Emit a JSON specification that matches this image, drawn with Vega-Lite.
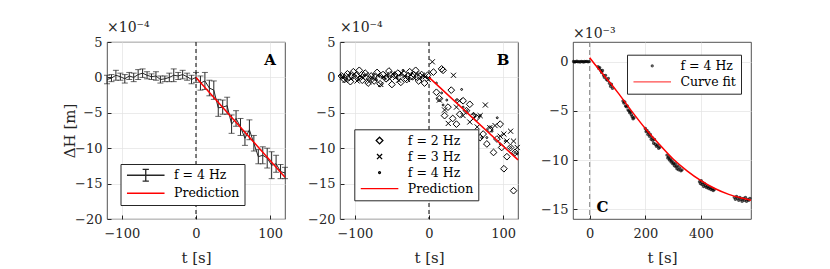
{
  "$schema": "https://vega.github.io/schema/vega-lite/v6.json",
  "padding": {"left": 62, "top": 20, "right": 5, "bottom": 5},
  "background": "white",
  "datasets": {
    "a": [
      {"t": -120, "v": -0.3, "lo": -0.9, "hi": 0.3},
      {"t": -114, "v": -0.1, "lo": -0.6, "hi": 0.4},
      {"t": -108, "v": 0.3, "lo": -0.4, "hi": 1.0},
      {"t": -102, "v": 0.1, "lo": -0.4, "hi": 0.6},
      {"t": -96, "v": -0.2, "lo": -0.8, "hi": 0.4},
      {"t": -90, "v": 0.2, "lo": -0.3, "hi": 0.7},
      {"t": -84, "v": 0.0, "lo": -0.6, "hi": 0.6},
      {"t": -78, "v": 0.4, "lo": -0.3, "hi": 1.1},
      {"t": -72, "v": 0.6, "lo": 0.0, "hi": 1.2},
      {"t": -66, "v": 0.3, "lo": -0.2, "hi": 0.8},
      {"t": -60, "v": 0.1, "lo": -0.3, "hi": 0.5},
      {"t": -54, "v": 0.2, "lo": -0.4, "hi": 0.8},
      {"t": -48, "v": -0.3, "lo": -0.8, "hi": 0.2},
      {"t": -42, "v": -0.2, "lo": -0.6, "hi": 0.2},
      {"t": -36, "v": 0.0, "lo": -0.6, "hi": 0.6},
      {"t": -30, "v": 0.3, "lo": -0.6, "hi": 1.2},
      {"t": -24, "v": 0.2, "lo": -0.3, "hi": 0.7},
      {"t": -18, "v": 0.4, "lo": -0.2, "hi": 1.0},
      {"t": -12, "v": 0.1, "lo": -0.4, "hi": 0.6},
      {"t": -6, "v": -0.3, "lo": -0.9, "hi": 0.3},
      {"t": 0, "v": 0.0, "lo": -0.7, "hi": 0.7},
      {"t": 6, "v": -0.8, "lo": -1.8, "hi": 0.2},
      {"t": 12, "v": -0.5, "lo": -1.7, "hi": 0.7},
      {"t": 18, "v": -1.5, "lo": -2.6, "hi": -0.4},
      {"t": 24, "v": -1.8, "lo": -3.1, "hi": -0.5},
      {"t": 30, "v": -4.3, "lo": -5.5, "hi": -3.1},
      {"t": 36, "v": -4.2, "lo": -5.2, "hi": -3.2},
      {"t": 42, "v": -4.0, "lo": -5.2, "hi": -2.8},
      {"t": 48, "v": -6.6, "lo": -7.9, "hi": -5.3},
      {"t": 54, "v": -5.8, "lo": -6.9, "hi": -4.7},
      {"t": 60, "v": -7.0, "lo": -8.2, "hi": -5.8},
      {"t": 66, "v": -8.6, "lo": -9.6, "hi": -7.6},
      {"t": 72, "v": -7.4, "lo": -8.8, "hi": -6.0},
      {"t": 78, "v": -9.3, "lo": -10.4, "hi": -8.2},
      {"t": 84, "v": -11.2, "lo": -12.2, "hi": -10.2},
      {"t": 90, "v": -11.0, "lo": -12.2, "hi": -9.8},
      {"t": 96, "v": -11.4, "lo": -12.8, "hi": -10.0},
      {"t": 102, "v": -12.4, "lo": -14.3, "hi": -10.5},
      {"t": 108, "v": -12.2, "lo": -13.4, "hi": -11.0},
      {"t": 114, "v": -13.3, "lo": -14.3, "hi": -12.3},
      {"t": 120, "v": -13.5, "lo": -14.3, "hi": -12.7}
    ],
    "predA": [
      {"t": 0, "v": 0.0, "s": "Prediction"},
      {"t": 120, "v": -14.1, "s": "Prediction"}
    ],
    "predB": [
      {"t": 0, "v": 0.0, "s": "Prediction"},
      {"t": 120, "v": -11.65, "s": "Prediction"}
    ],
    "b": [
      {"s": "f = 2 Hz", "t": -118, "v": 0.2}, {"s": "f = 2 Hz", "t": -114, "v": -0.3}, {"s": "f = 2 Hz", "t": -110, "v": 0.5},
      {"s": "f = 2 Hz", "t": -106, "v": -0.6}, {"s": "f = 2 Hz", "t": -102, "v": 0.8}, {"s": "f = 2 Hz", "t": -98, "v": 0.3},
      {"s": "f = 2 Hz", "t": -94, "v": 1.0}, {"s": "f = 2 Hz", "t": -90, "v": -0.4}, {"s": "f = 2 Hz", "t": -86, "v": 0.6},
      {"s": "f = 2 Hz", "t": -82, "v": -0.8}, {"s": "f = 2 Hz", "t": -78, "v": 0.2}, {"s": "f = 2 Hz", "t": -74, "v": -0.5},
      {"s": "f = 2 Hz", "t": -70, "v": 0.7}, {"s": "f = 2 Hz", "t": -66, "v": -0.9}, {"s": "f = 2 Hz", "t": -62, "v": 0.4},
      {"s": "f = 2 Hz", "t": -58, "v": -0.2}, {"s": "f = 2 Hz", "t": -54, "v": 0.9}, {"s": "f = 2 Hz", "t": -50, "v": -1.0},
      {"s": "f = 2 Hz", "t": -46, "v": 0.3}, {"s": "f = 2 Hz", "t": -42, "v": 0.6}, {"s": "f = 2 Hz", "t": -38, "v": -0.7},
      {"s": "f = 2 Hz", "t": -34, "v": 0.5}, {"s": "f = 2 Hz", "t": -30, "v": -0.3}, {"s": "f = 2 Hz", "t": -26, "v": 0.8},
      {"s": "f = 2 Hz", "t": -22, "v": 0.1}, {"s": "f = 2 Hz", "t": -18, "v": 1.0}, {"s": "f = 2 Hz", "t": -14, "v": -0.5},
      {"s": "f = 2 Hz", "t": -10, "v": 0.4}, {"s": "f = 2 Hz", "t": -6, "v": -0.8}, {"s": "f = 2 Hz", "t": -2, "v": 0.3},
      {"s": "f = 2 Hz", "t": 6, "v": 0.75}, {"s": "f = 2 Hz", "t": 10, "v": -2.1}, {"s": "f = 2 Hz", "t": 14, "v": -3.0},
      {"s": "f = 2 Hz", "t": 17, "v": 1.2}, {"s": "f = 2 Hz", "t": 19, "v": 1.0}, {"s": "f = 2 Hz", "t": 21, "v": -5.4},
      {"s": "f = 2 Hz", "t": 25.6, "v": -4.2}, {"s": "f = 2 Hz", "t": 30, "v": -1.8}, {"s": "f = 2 Hz", "t": 32, "v": -5.8},
      {"s": "f = 2 Hz", "t": 37, "v": -6.6}, {"s": "f = 2 Hz", "t": 41.5, "v": -5.2}, {"s": "f = 2 Hz", "t": 46, "v": -3.3},
      {"s": "f = 2 Hz", "t": 50.6, "v": -4.7}, {"s": "f = 2 Hz", "t": 55, "v": -3.8}, {"s": "f = 2 Hz", "t": 60, "v": -5.4},
      {"s": "f = 2 Hz", "t": 64, "v": -5.7}, {"s": "f = 2 Hz", "t": 69, "v": -8.5}, {"s": "f = 2 Hz", "t": 73, "v": -8.0},
      {"s": "f = 2 Hz", "t": 78, "v": -9.4}, {"s": "f = 2 Hz", "t": 82, "v": -7.3}, {"s": "f = 2 Hz", "t": 87, "v": -10.6},
      {"s": "f = 2 Hz", "t": 91.6, "v": -8.7}, {"s": "f = 2 Hz", "t": 96, "v": -6.6}, {"s": "f = 2 Hz", "t": 98, "v": -9.9},
      {"s": "f = 2 Hz", "t": 101, "v": -12.9}, {"s": "f = 2 Hz", "t": 105, "v": -11.2}, {"s": "f = 2 Hz", "t": 110, "v": -9.9},
      {"s": "f = 2 Hz", "t": 114, "v": -16.0}, {"s": "f = 2 Hz", "t": 116, "v": -10.6},
      {"s": "f = 3 Hz", "t": -117, "v": 0.1}, {"s": "f = 3 Hz", "t": -113, "v": -0.4}, {"s": "f = 3 Hz", "t": -109, "v": 0.3},
      {"s": "f = 3 Hz", "t": -105, "v": -0.2}, {"s": "f = 3 Hz", "t": -101, "v": 0.5}, {"s": "f = 3 Hz", "t": -97, "v": -0.5},
      {"s": "f = 3 Hz", "t": -93, "v": 0.2}, {"s": "f = 3 Hz", "t": -89, "v": -0.1}, {"s": "f = 3 Hz", "t": -85, "v": 0.4},
      {"s": "f = 3 Hz", "t": -81, "v": -0.6}, {"s": "f = 3 Hz", "t": -77, "v": 0.0}, {"s": "f = 3 Hz", "t": -73, "v": -0.3},
      {"s": "f = 3 Hz", "t": -69, "v": 0.3}, {"s": "f = 3 Hz", "t": -65, "v": -1.0}, {"s": "f = 3 Hz", "t": -61, "v": 0.1},
      {"s": "f = 3 Hz", "t": -57, "v": 0.4}, {"s": "f = 3 Hz", "t": -53, "v": -0.2}, {"s": "f = 3 Hz", "t": -49, "v": 0.5},
      {"s": "f = 3 Hz", "t": -45, "v": 0.0}, {"s": "f = 3 Hz", "t": -41, "v": -0.4}, {"s": "f = 3 Hz", "t": -37, "v": 0.6},
      {"s": "f = 3 Hz", "t": -33, "v": 0.2}, {"s": "f = 3 Hz", "t": -29, "v": -0.3}, {"s": "f = 3 Hz", "t": -25, "v": 0.4},
      {"s": "f = 3 Hz", "t": -21, "v": 0.0}, {"s": "f = 3 Hz", "t": -17, "v": 0.5}, {"s": "f = 3 Hz", "t": -13, "v": -0.2},
      {"s": "f = 3 Hz", "t": -9, "v": 0.3}, {"s": "f = 3 Hz", "t": -5, "v": 0.1}, {"s": "f = 3 Hz", "t": -1, "v": -0.3},
      {"s": "f = 3 Hz", "t": 4.5, "v": 2.2}, {"s": "f = 3 Hz", "t": 14, "v": -3.2}, {"s": "f = 3 Hz", "t": 21, "v": -4.6},
      {"s": "f = 3 Hz", "t": 26, "v": -6.5}, {"s": "f = 3 Hz", "t": 33, "v": 0.3}, {"s": "f = 3 Hz", "t": 37, "v": -4.2},
      {"s": "f = 3 Hz", "t": 41, "v": -3.3}, {"s": "f = 3 Hz", "t": 46, "v": -5.4}, {"s": "f = 3 Hz", "t": 55, "v": -6.3},
      {"s": "f = 3 Hz", "t": 60, "v": -5.8}, {"s": "f = 3 Hz", "t": 65, "v": -7.0}, {"s": "f = 3 Hz", "t": 69, "v": -5.4},
      {"s": "f = 3 Hz", "t": 76, "v": -3.9}, {"s": "f = 3 Hz", "t": 82, "v": -7.1}, {"s": "f = 3 Hz", "t": 89, "v": -6.8},
      {"s": "f = 3 Hz", "t": 96, "v": -8.3}, {"s": "f = 3 Hz", "t": 101, "v": -8.0}, {"s": "f = 3 Hz", "t": 105, "v": -9.0},
      {"s": "f = 3 Hz", "t": 110, "v": -7.6}, {"s": "f = 3 Hz", "t": 114, "v": -9.0}, {"s": "f = 3 Hz", "t": 119, "v": -9.9},
      {"s": "f = 4 Hz", "t": -119, "v": 0.3}, {"s": "f = 4 Hz", "t": -115, "v": 0.0}, {"s": "f = 4 Hz", "t": -111, "v": -0.2},
      {"s": "f = 4 Hz", "t": -107, "v": 0.4}, {"s": "f = 4 Hz", "t": -103, "v": -0.1}, {"s": "f = 4 Hz", "t": -99, "v": 0.2},
      {"s": "f = 4 Hz", "t": -95, "v": -0.3}, {"s": "f = 4 Hz", "t": -91, "v": 0.1}, {"s": "f = 4 Hz", "t": -87, "v": 0.3},
      {"s": "f = 4 Hz", "t": -83, "v": -0.2}, {"s": "f = 4 Hz", "t": -79, "v": 0.0}, {"s": "f = 4 Hz", "t": -75, "v": 0.4},
      {"s": "f = 4 Hz", "t": -71, "v": -0.3}, {"s": "f = 4 Hz", "t": -67, "v": 0.2}, {"s": "f = 4 Hz", "t": -63, "v": 0.0},
      {"s": "f = 4 Hz", "t": -59, "v": -0.2}, {"s": "f = 4 Hz", "t": -55, "v": 0.3}, {"s": "f = 4 Hz", "t": -51, "v": 0.1},
      {"s": "f = 4 Hz", "t": -47, "v": 0.5}, {"s": "f = 4 Hz", "t": -43, "v": -0.1}, {"s": "f = 4 Hz", "t": -39, "v": 0.3},
      {"s": "f = 4 Hz", "t": -35, "v": 1.0}, {"s": "f = 4 Hz", "t": -31, "v": 0.2}, {"s": "f = 4 Hz", "t": -27, "v": -0.2},
      {"s": "f = 4 Hz", "t": -23, "v": 0.6}, {"s": "f = 4 Hz", "t": -19, "v": 0.0}, {"s": "f = 4 Hz", "t": -15, "v": 0.4},
      {"s": "f = 4 Hz", "t": -11, "v": -0.1}, {"s": "f = 4 Hz", "t": -7, "v": 0.2}, {"s": "f = 4 Hz", "t": -3, "v": 0.0},
      {"s": "f = 4 Hz", "t": 10, "v": -0.8}, {"s": "f = 4 Hz", "t": 17, "v": -2.2}, {"s": "f = 4 Hz", "t": 19, "v": -3.9},
      {"s": "f = 4 Hz", "t": 24, "v": -3.2}, {"s": "f = 4 Hz", "t": 37, "v": -3.2}, {"s": "f = 4 Hz", "t": 44, "v": -1.7},
      {"s": "f = 4 Hz", "t": 46, "v": -4.2}, {"s": "f = 4 Hz", "t": 51, "v": -4.7}, {"s": "f = 4 Hz", "t": 60, "v": -5.2},
      {"s": "f = 4 Hz", "t": 69, "v": -5.4}, {"s": "f = 4 Hz", "t": 71, "v": -8.5}, {"s": "f = 4 Hz", "t": 78, "v": -8.5},
      {"s": "f = 4 Hz", "t": 85, "v": -7.6}, {"s": "f = 4 Hz", "t": 92, "v": -5.7}, {"s": "f = 4 Hz", "t": 96, "v": -9.4},
      {"s": "f = 4 Hz", "t": 103, "v": -9.0}, {"s": "f = 4 Hz", "t": 110, "v": -9.9}, {"s": "f = 4 Hz", "t": 116, "v": -10.6},
      {"s": "f = 4 Hz", "t": 119, "v": -10.8}
    ],
    "c": [
      {"t": -58, "v": 0.02}, {"t": -54, "v": -0.03}, {"t": -50, "v": 0.0}, {"t": -46, "v": 0.04}, {"t": -42, "v": -0.02},
      {"t": -38, "v": 0.01}, {"t": -34, "v": -0.04}, {"t": -30, "v": 0.03}, {"t": -26, "v": 0.0}, {"t": -22, "v": -0.03},
      {"t": -18, "v": 0.02}, {"t": -14, "v": 0.0}, {"t": -10, "v": 0.03}, {"t": -6, "v": -0.02}, {"t": -2, "v": 0.01},
      {"t": 30, "v": -0.5}, {"t": 33, "v": -0.7}, {"t": 36, "v": -0.6}, {"t": 40, "v": -0.9}, {"t": 43, "v": -1.1},
      {"t": 46, "v": -0.9}, {"t": 50, "v": -1.4}, {"t": 53, "v": -1.6}, {"t": 57, "v": -1.4}, {"t": 60, "v": -1.8},
      {"t": 64, "v": -1.9}, {"t": 67, "v": -1.7}, {"t": 71, "v": -2.2}, {"t": 75, "v": -2.5}, {"t": 78, "v": -2.3}, {"t": 82, "v": -2.7},
      {"t": 120, "v": -4.0}, {"t": 123, "v": -4.2}, {"t": 126, "v": -4.1}, {"t": 129, "v": -4.5}, {"t": 132, "v": -4.6},
      {"t": 135, "v": -4.5}, {"t": 138, "v": -4.9}, {"t": 141, "v": -5.0}, {"t": 144, "v": -5.2}, {"t": 147, "v": -5.1},
      {"t": 150, "v": -5.4}, {"t": 153, "v": -5.6}, {"t": 156, "v": -5.8}, {"t": 159, "v": -5.7},
      {"t": 200, "v": -6.8}, {"t": 203, "v": -7.1}, {"t": 206, "v": -7.0}, {"t": 209, "v": -7.4}, {"t": 212, "v": -7.2},
      {"t": 215, "v": -7.6}, {"t": 218, "v": -7.4}, {"t": 221, "v": -7.9}, {"t": 224, "v": -7.7}, {"t": 227, "v": -8.0},
      {"t": 230, "v": -8.3}, {"t": 233, "v": -7.9}, {"t": 236, "v": -8.4}, {"t": 240, "v": -8.6}, {"t": 244, "v": -8.5},
      {"t": 248, "v": -8.8}, {"t": 252, "v": -8.7},
      {"t": 278, "v": -9.5}, {"t": 281, "v": -9.8}, {"t": 284, "v": -9.7}, {"t": 287, "v": -10.0}, {"t": 290, "v": -9.9},
      {"t": 293, "v": -10.2}, {"t": 296, "v": -10.1}, {"t": 299, "v": -10.4}, {"t": 302, "v": -10.3}, {"t": 305, "v": -10.6},
      {"t": 308, "v": -10.4}, {"t": 311, "v": -10.7}, {"t": 314, "v": -10.9}, {"t": 317, "v": -10.6}, {"t": 320, "v": -11.0},
      {"t": 324, "v": -10.8}, {"t": 328, "v": -11.1}, {"t": 332, "v": -11.0},
      {"t": 395, "v": -12.2}, {"t": 398, "v": -12.4}, {"t": 401, "v": -12.1}, {"t": 404, "v": -12.5}, {"t": 407, "v": -12.3},
      {"t": 410, "v": -12.7}, {"t": 413, "v": -12.4}, {"t": 416, "v": -12.6}, {"t": 420, "v": -12.8}, {"t": 424, "v": -12.7},
      {"t": 428, "v": -12.9}, {"t": 432, "v": -12.8}, {"t": 436, "v": -13.0}, {"t": 440, "v": -12.9}, {"t": 444, "v": -13.1},
      {"t": 448, "v": -13.0},
      {"t": 520, "v": -13.8}, {"t": 524, "v": -14.0}, {"t": 528, "v": -13.7}, {"t": 532, "v": -13.9}, {"t": 536, "v": -14.1},
      {"t": 540, "v": -13.8}, {"t": 544, "v": -14.0}, {"t": 548, "v": -14.2}, {"t": 552, "v": -13.9}, {"t": 556, "v": -14.1},
      {"t": 560, "v": -13.8}, {"t": 564, "v": -14.2}, {"t": 568, "v": -14.0}, {"t": 572, "v": -14.1}, {"t": 576, "v": -13.9}
    ],
    "fitC": [
      {"t": 0, "v": 0.4, "s": "Curve fit"}, {"t": 25, "v": -0.5, "s": "Curve fit"}, {"t": 50, "v": -1.35, "s": "Curve fit"},
      {"t": 75, "v": -2.2, "s": "Curve fit"}, {"t": 100, "v": -3.1, "s": "Curve fit"}, {"t": 150, "v": -5.0, "s": "Curve fit"},
      {"t": 200, "v": -6.8, "s": "Curve fit"}, {"t": 250, "v": -8.4, "s": "Curve fit"}, {"t": 300, "v": -9.9, "s": "Curve fit"},
      {"t": 350, "v": -11.1, "s": "Curve fit"}, {"t": 400, "v": -12.1, "s": "Curve fit"}, {"t": 450, "v": -12.9, "s": "Curve fit"},
      {"t": 500, "v": -13.5, "s": "Curve fit"}, {"t": 550, "v": -13.9, "s": "Curve fit"}, {"t": 580, "v": -14.1, "s": "Curve fit"}
    ]
  },
  "hconcat": [
    {
      "width": 178, "height": 177,
      "title": {"text": "×10⁻⁴"},
      "encoding": {
        "x": {"field": "t", "type": "quantitative", "scale": {"domain": [-120, 120], "nice": false},
              "axis": {"title": "t [s]", "values": [-100, 0, 100], "tickCount": 3}},
        "y": {"field": "v", "type": "quantitative", "scale": {"domain": [-20, 5], "nice": false},
              "axis": {"title": "ΔH [m]", "values": [5, 0, -5, -10, -15, -20], "tickCount": 6}}
      },
      "layer": [
        {
          "data": {"values": [{"t": 0}]},
          "mark": {"type": "rule", "color": "black", "strokeDash": [4, 3], "strokeWidth": 1},
          "encoding": {"y": null}
        },
        {
          "data": {"name": "a"},
          "mark": {"type": "rule", "color": "#262626", "strokeWidth": 1},
          "encoding": {
            "y": {"field": "lo", "type": "quantitative"},
            "y2": {"field": "hi"}
          }
        },
        {
          "data": {"name": "a"},
          "mark": {"type": "tick", "orient": "horizontal", "color": "#262626", "size": 6, "thickness": 1},
          "encoding": {"y": {"field": "lo", "type": "quantitative"}}
        },
        {
          "data": {"name": "a"},
          "mark": {"type": "tick", "orient": "horizontal", "color": "#262626", "size": 6, "thickness": 1},
          "encoding": {"y": {"field": "hi", "type": "quantitative"}}
        },
        {
          "data": {"name": "a"},
          "transform": [{"calculate": "'f = 4 Hz'", "as": "s"}],
          "mark": {"type": "line", "strokeWidth": 1},
          "encoding": {
            "color": {"field": "s", "type": "nominal",
                      "scale": {"domain": ["f = 4 Hz", "Prediction"], "range": ["#262626", "#ff0000"]},
                      "legend": {"orient": "none", "legendX": 13.5, "legendY": 122, "title": null}}
          }
        },
        {
          "data": {"name": "a"},
          "transform": [{"calculate": "'f = 4 Hz'", "as": "s"}],
          "mark": {"type": "point", "filled": false, "strokeOpacity": 0, "fillOpacity": 0},
          "encoding": {
            "color": {"field": "s", "type": "nominal"},
            "shape": {"field": "s", "type": "nominal",
                      "scale": {"domain": ["f = 4 Hz", "Prediction"],
                                "range": ["M-4.2,0H4.2M0,-1.3V1.3M-0.7,-1.3H0.7M-0.7,1.3H0.7", "M-4.2,0H4.2"]}},
            "size": {"field": "s", "type": "nominal", "scale": {"type": "ordinal", "domain": ["f = 4 Hz", "Prediction"], "range": [80, 80]}}
          }
        },
        {
          "data": {"name": "predA"},
          "mark": {"type": "line", "strokeWidth": 1.5},
          "encoding": {"color": {"field": "s", "type": "nominal"}}
        },
        {
          "data": {"values": [{"t": 100, "v": 2.5, "label": "A"}]},
          "mark": {"type": "text", "fontWeight": "bold", "fontSize": 15, "font": "DejaVu Serif", "color": "black"},
          "encoding": {"text": {"field": "label"}}
        }
      ]
    },
    {
      "width": 178, "height": 177,
      "title": {"text": "×10⁻⁴"},
      "encoding": {
        "x": {"field": "t", "type": "quantitative", "scale": {"domain": [-120, 120], "nice": false},
              "axis": {"title": "t [s]", "values": [-100, 0, 100], "tickCount": 3}},
        "y": {"field": "v", "type": "quantitative", "scale": {"domain": [-20, 5], "nice": false},
              "axis": {"title": null, "values": [5, 0, -5, -10, -15, -20], "tickCount": 6}}
      },
      "layer": [
        {
          "data": {"values": [{"t": 0}]},
          "mark": {"type": "rule", "color": "black", "strokeDash": [4, 3], "strokeWidth": 1},
          "encoding": {"y": null}
        },
        {
          "data": {"name": "b"},
          "mark": {"type": "point", "filled": false, "strokeWidth": 1, "opacity": 1},
          "encoding": {
            "color": {"field": "s", "type": "nominal",
                      "scale": {"domain": ["f = 2 Hz", "f = 3 Hz", "f = 4 Hz", "Prediction"], "range": ["black", "black", "black", "#ff0000"]},
                      "legend": {"orient": "none", "legendX": 14.3, "legendY": 87.3, "title": null}},
            "shape": {"field": "s", "type": "nominal",
                      "scale": {"domain": ["f = 2 Hz", "f = 3 Hz", "f = 4 Hz", "Prediction"],
                                "range": ["diamond", "M-1,-1L1,1M-1,1L1,-1", "circle", "M-4.2,0H4.2"]}},
            "size": {"field": "s", "type": "nominal",
                     "scale": {"type": "ordinal", "domain": ["f = 2 Hz", "f = 3 Hz", "f = 4 Hz", "Prediction"], "range": [45, 26, 3.5, 80]}}
          }
        },
        {
          "data": {"name": "predB"},
          "mark": {"type": "line", "strokeWidth": 1.5},
          "encoding": {"color": {"field": "s", "type": "nominal"}}
        },
        {
          "data": {"values": [{"t": 100, "v": 2.5, "label": "B"}]},
          "mark": {"type": "text", "fontWeight": "bold", "fontSize": 15, "font": "DejaVu Serif", "color": "black"},
          "encoding": {"text": {"field": "label"}}
        }
      ]
    },
    {
      "width": 178, "height": 177,
      "title": {"text": "×10⁻³"},
      "encoding": {
        "x": {"field": "t", "type": "quantitative", "scale": {"domain": [-60, 580], "nice": false},
              "axis": {"title": "t [s]", "values": [0, 200, 400], "tickCount": 3}},
        "y": {"field": "v", "type": "quantitative", "scale": {"domain": [-16, 2], "nice": false},
              "axis": {"title": null, "values": [0, -5, -10, -15], "tickCount": 4}}
      },
      "layer": [
        {
          "data": {"values": [{"t": 0}]},
          "mark": {"type": "rule", "color": "#808080", "strokeDash": [5, 3], "strokeWidth": 1},
          "encoding": {"y": null}
        },
        {
          "data": {"name": "c"},
          "transform": [{"calculate": "'f = 4 Hz'", "as": "s"}],
          "mark": {"type": "point", "filled": false, "strokeWidth": 1.5},
          "encoding": {
            "color": {"field": "s", "type": "nominal",
                      "scale": {"domain": ["f = 4 Hz", "Curve fit"], "range": ["black", "#ff0000"]},
                      "legend": {"orient": "none", "legendX": 54, "legendY": 12.7, "title": null}},
            "shape": {"field": "s", "type": "nominal",
                      "scale": {"domain": ["f = 4 Hz", "Curve fit"], "range": ["circle", "M-4.2,0H4.2"]}},
            "size": {"field": "s", "type": "nominal", "scale": {"type": "ordinal", "domain": ["f = 4 Hz", "Curve fit"], "range": [3.5, 80]}}
          }
        },
        {
          "data": {"name": "fitC"},
          "mark": {"type": "line", "strokeWidth": 1.5, "interpolate": "monotone"},
          "encoding": {"color": {"field": "s", "type": "nominal"}}
        },
        {
          "data": {"values": [{"t": 46, "v": -14.8, "label": "C"}]},
          "mark": {"type": "text", "fontWeight": "bold", "fontSize": 15, "font": "DejaVu Serif", "color": "black"},
          "encoding": {"text": {"field": "label"}}
        }
      ]
    }
  ],
  "spacing": 55,
  "bounds": "flush",
  "resolve": {"scale": {"color": "independent", "shape": "independent", "size": "independent"}},
  "config": {
    "font": "DejaVu Serif",
    "view": {"stroke": "#262626", "strokeWidth": 0.8},
    "axis": {
      "labelFont": "DejaVu Serif", "labelFontSize": 13, "labelColor": "#262626",
      "titleFont": "DejaVu Serif", "titleFontSize": 15, "titleFontWeight": "normal", "titleColor": "#262626",
      "gridColor": "#e3e3e3", "gridWidth": 0.7, "domain": false,
      "tickColor": "#262626", "tickSize": -4, "labelPadding": 9,
      "labelOverlap": false, "labelFlush": false
    },
    "axisY": {"titlePadding": -3},
    "axisX": {"titlePadding": 10, "labelPadding": 12},
    "legend": {
      "labelFont": "DejaVu Serif", "labelFontSize": 12.5, "labelColor": "black",
      "fillColor": "white", "strokeColor": "#262626", "padding": 5,
      "symbolStrokeWidth": 1.3, "rowPadding": 3, "symbolOffset": 14, "labelOffset": 22
    },
    "title": {"font": "DejaVu Serif", "fontSize": 14, "fontWeight": "normal", "anchor": "start", "frame": "group", "offset": 1, "color": "#262626"}
  }
}
